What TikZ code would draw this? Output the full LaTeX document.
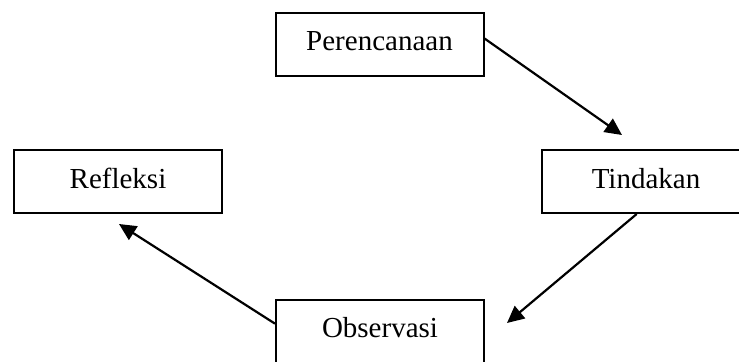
\documentclass[tikz,border=0pt]{standalone}
\usepackage{fontspec}
\setmainfont{Liberation Serif}
\usetikzlibrary{arrows.meta}
\tikzset{
  box/.style={draw=black, line width=1pt, minimum width=104pt, minimum height=31.5pt,
    inner sep=0pt, text height=9.6pt, text depth=3pt, font=\fontsize{14.5}{17}\selectfont},
  arr/.style={draw=black, line width=1.1pt, -{Triangle[length=8.5pt,width=8pt]}},
}
\begin{document}
\begin{tikzpicture}[x=0.5pt,y=-0.5pt]
  \useasboundingbox (0,0) rectangle (739,361);
  \clip (0,0) rectangle (739,361);
  \node[box] (rencana) at (379.5,44) {Perencanaan};
  \node[box] (tindakan) at (646,181.5) {Tindakan};
  \node[box] (refleksi) at (118,181.5) {Refleksi};
  \node[box] (observasi) at (380,331) {Observasi};
  \coordinate (toTindakan) at (622,135);
  \coordinate (toObservasi) at (507,323);
  \coordinate (toRefleksi) at (119,224);
  \draw[arr] (rencana.3) -- (toTindakan);
  \draw[arr] (tindakan.254) -- (toObservasi);
  \draw[arr] (observasi.176) -- (toRefleksi);
\end{tikzpicture}
\end{document}
